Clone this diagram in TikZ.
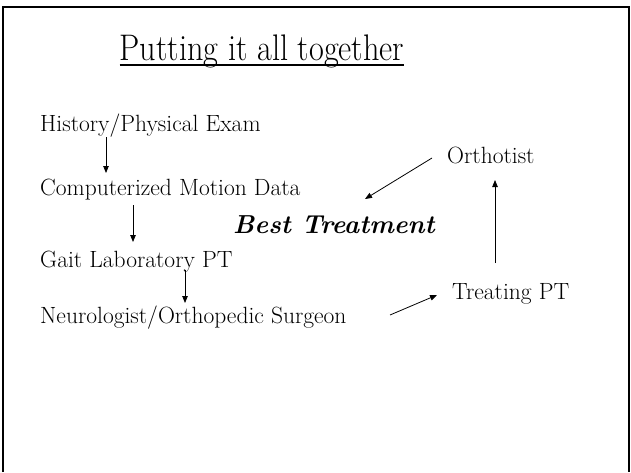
\documentclass[tikz,border=0pt]{standalone}
\usepackage{tikz}
\usetikzlibrary{positioning,calc}
\usetikzlibrary{arrows.meta}
\tikzset{
	item/.style={anchor=base west,inner sep=0pt,font=\fontsize{23.5}{28}\selectfont},
	lead/.style={draw=black,line width=0.8pt,-{Triangle[length=7pt,width=5.5pt]}},
}

\begin{document}
\begin{tikzpicture}[x=1pt,y=-1pt]
			\useasboundingbox (0,0) rectangle (631,472);
			% slide frame, open at the bottom
			\draw[line width=2.6pt] (3,472) -- (3,7) -- (629,7) -- (629,472);
			% title
			\node[anchor=base,inner sep=0pt,font=\fontsize{37}{44}\selectfont] (title) at (262,60) {\scalebox{0.87}[1]{Putting it all together}};
			\draw[line width=1.6pt] ([yshift=-5pt]title.base west) -- ([yshift=-5pt]title.base east);
			\begin{scope}
				\coordinate (h) at (40,131);
				\coordinate (c) at (40,195);
				\coordinate (g) at (40,267);
				\coordinate (n) at (40,323);
				\coordinate (o) at (447,163);
				\coordinate (t) at (452,299);
				\coordinate (b) at (233,233);
				\node[item] (hist) at (h) {History/Physical Exam};
				\node[item] (comp) at (c) {Computerized Motion Data};
				\node[item] (gait) at (g) {Gait Laboratory PT};
				\node[item] (neuro) at (n) {Neurologist/Orthopedic Surgeon};
				\node[item] (ortho) at (o) {Orthotist};
				\node[item] (treat) at (t) {Treating PT};
				\node[item,font=\fontsize{26}{31}\selectfont\bfseries\itshape] (best) at (b) {Best Treatment};
			\end{scope}
			\draw[lead] ([xshift=66pt,yshift=-6pt]hist.base west) -- ([xshift=66pt,yshift=22pt]comp.base west);
			\draw[lead] ([xshift=93pt,yshift=-10pt]comp.base west) -- ([xshift=93pt,yshift=25pt]gait.base west);
			\draw[lead] ([xshift=145pt,yshift=-3pt]gait.base west) -- ([xshift=145pt,yshift=20pt]neuro.base west);
			\draw[lead] ([xshift=350pt,yshift=8pt]neuro.base west) -- ([xshift=-15pt,yshift=4pt]treat.base west);
			\draw[lead] ([xshift=43pt,yshift=36pt]treat.base west) -- ([xshift=48pt,yshift=-17pt]ortho.base west);
			\draw[lead] ([xshift=-15pt,yshift=5pt]ortho.base west) -- ([xshift=132pt,yshift=34pt]best.base west);
		\end{tikzpicture}
\end{document}
